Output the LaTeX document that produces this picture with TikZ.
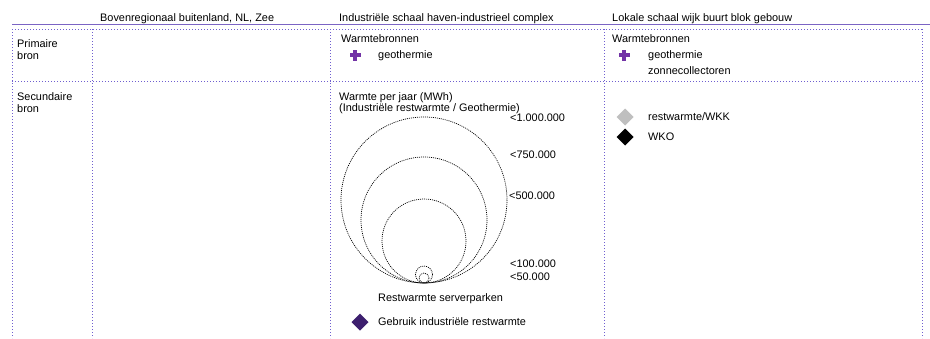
\documentclass[tikz,border=0pt]{standalone}
\usepackage{fontspec}
\setmainfont{Liberation Sans}
\definecolor{paars}{HTML}{7B64C4}
\definecolor{raster}{HTML}{6F5FD0}
\definecolor{plusk}{HTML}{7233A6}
\definecolor{donker}{HTML}{3D1F6E}
\definecolor{grijs}{HTML}{BFBFBF}
\tikzset{
txt/.style={anchor=base west, inner sep=0pt, font=\fontsize{10.9}{13}\selectfont},
grid1/.style={raster, line width=1pt, dash pattern=on 1pt off 2pt},
ring1/.style={black, line width=0.7pt, dash pattern=on 1pt off 1pt},
plus1/.pic={
  \fill[plusk] (-5.5,-2) rectangle (5.5,2);
  \fill[plusk] (-2,-5.5) rectangle (2,5.5);
  },
ruit1/.pic={
  \fill (0,-8.5) -- (8.5,0) -- (0,8.5) -- (-8.5,0) -- cycle;
  }
}
\begin{document}
\begin{tikzpicture}[x=1pt, y=-1pt]
\useasboundingbox (0,0) rectangle (930,338);
% koppen
\node[txt] (kop1) at (100,21) {Bovenregionaal buitenland, NL, Zee};
\node[txt] (kop2) at (339,21) {Industriële schaal haven-industrieel complex};
\node[txt] (kop3) at (612,21) {Lokale schaal wijk buurt blok gebouw};
\draw[paars, line width=0.8pt] (12,24.5) -- (930,24.5);
% raster
\draw[grid1] (12,29) -- (922,29);
\draw[grid1] (12,81) -- (922,81);
\draw[grid1] (12,29) -- (12,338);
\draw[grid1] (92,29) -- (92,338);
\draw[grid1] (330,29) -- (330,338);
\draw[grid1] (604,29) -- (604,338);
\draw[grid1] (922,29) -- (922,338);
% rijen
\node[txt] (prim1) at (17,47) {Primaire};
\node[txt] (prim2) at (17,59) {bron};
\node[txt] (sec1) at (17,100) {Secundaire};
\node[txt] (sec2) at (17,112) {bron};
% primaire bron
\node[txt] (wb1) at (341,42) {Warmtebronnen};
\pic at (355,55) {plus1};
\node[txt] (geo1) at (378,58.5) {geothermie};
\node[txt] (wb2) at (612,42) {Warmtebronnen};
\pic at (624,55) {plus1};
\node[txt] (geo2) at (648,58.5) {geothermie};
\node[txt] (zon) at (648,74.5) {zonnecollectoren};
% secundaire bron
\node[txt] (wpj1) at (339,100) {Warmte per jaar (MWh)};
\node[txt] (wpj2) at (339,111) {(Industriële restwarmte / Geothermie)};
\draw[ring1] (424,200) circle [radius=83];
\draw[ring1] (424,220) circle [radius=63];
\draw[ring1] (424,241) circle [radius=42];
\draw[ring1] (424,274.5) circle [radius=8.5];
\draw[ring1] (424,278) circle [radius=5];
\node[txt] (r1) at (510,121) {<1.000.000};
\node[txt] (r2) at (510,158.5) {<750.000};
\node[txt] (r3) at (509,199.5) {<500.000};
\node[txt] (r4) at (510,267) {<100.000};
\node[txt] (r5) at (510,280.5) {<50.000};
\node[txt] (srv) at (378,301) {Restwarmte serverparken};
\pic[color=donker] at (360,322) {ruit1};
\node[txt] (gir) at (378,325.5) {Gebruik industriële restwarmte};
\pic[color=grijs] at (625,117) {ruit1};
\node[txt] (wkk) at (648,120) {restwarmte/WKK};
\pic[color=black] at (625,137) {ruit1};
\node[txt] (wko) at (648,140) {WKO};
\end{tikzpicture}
\end{document}
